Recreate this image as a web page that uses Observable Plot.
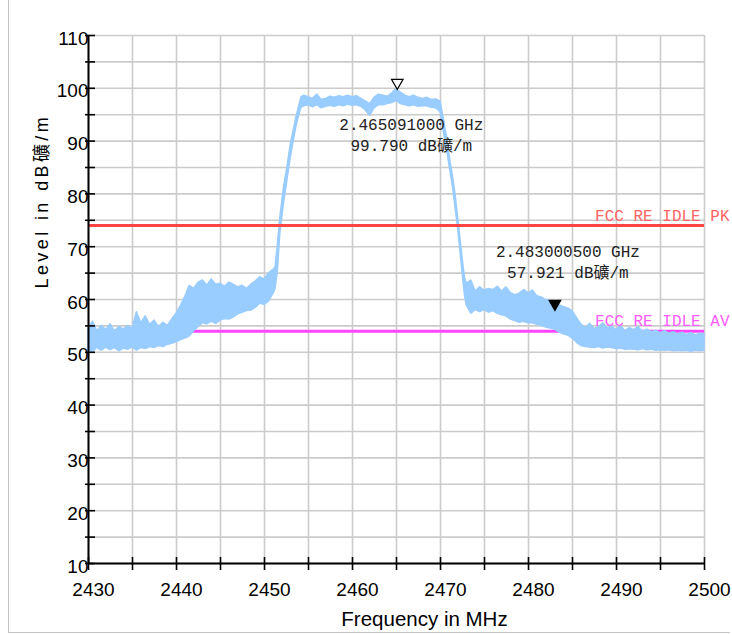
<!DOCTYPE html>
<html><head><meta charset="utf-8">
<script src="https://cdn.jsdelivr.net/npm/d3@7"></script>
<script src="https://cdn.jsdelivr.net/npm/@observablehq/plot@0.6"></script>
<style>
body{margin:0;background:#fff;}
#wrap{position:relative;width:732px;height:634px;}
#border{position:absolute;left:8px;top:0;width:722px;height:633px;border-left:1.5px solid #c4c4c4;border-bottom:1.5px solid #c4c4c4;box-sizing:border-box;}
#chart{position:absolute;left:0;top:0;}
</style></head><body>
<div id="wrap"><div id="border"></div><div id="chart"></div></div>
<script>
// ---- data ----
const freqs = [2430,2430.5,2431,2431.5,2432,2432.5,2433,2433.5,2434,2434.5,2435,2435.5,2436,2436.5,2437,2437.5,2438,2438.5,2439,2439.5,
2440,2440.5,2441,2441.5,2442,2442.5,2443,2443.5,2444,2444.5,2445,2445.5,2446,2446.5,2447,2447.5,2448,2448.5,2449,2449.5,
2450,2450.5,2451,2451.25,2451.5,2451.8,2452.2,2452.6,2453,2453.3,2453.6,2453.9,2454.2,2454.5,2455,2455.5,2456,2456.5,2457,2457.5,
2458,2458.5,2459,2459.5,2460,2460.5,2461,2461.5,2462,2462.5,2463,2463.5,2464,2464.5,2465,2465.5,2466,2466.5,2467,2467.5,
2468,2468.5,2469,2469.5,2470,2470.4,2470.8,2471.1,2471.4,2471.7,2472,2472.3,2472.6,2472.8,2473,2473.5,2474,2474.5,2475,2475.5,
2476,2476.5,2477,2477.5,2478,2478.5,2479,2479.5,2480,2480.5,2481,2481.5,2482,2482.5,2483,2483.5,2484,2484.5,2485,2485.5,
2486,2486.5,2487,2487.5,2488,2488.5,2489,2489.5,2490,2490.5,2491,2491.5,2492,2492.5,2493,2493.5,2494,2494.5,2495,2495.5,
2496,2496.5,2497,2497.5,2498,2498.5,2499,2499.5,2500];
const levelLow = [50.5,50.0,50.8,50.3,50.9,50.4,50.8,50.2,50.7,50.5,50.9,50.3,50.8,50.6,51.0,50.8,51.2,51.0,51.4,51.6,
51.9,52.3,52.6,53.0,54.0,54.8,55.5,55.3,55.8,55.4,56.0,56.3,56.2,56.6,57.2,57.5,57.8,57.9,58.4,59.2,
59.0,59.6,61.0,62.0,65.0,72.5,78.0,82.5,87.0,89.8,92.5,94.6,96.3,96.6,96.8,96.4,96.8,96.2,96.5,96.7,
96.5,96.8,96.6,96.9,96.7,96.8,96.5,95.8,94.8,96.2,96.8,96.8,97.0,97.2,97.6,97.0,96.8,96.6,96.8,96.5,
96.6,96.6,96.3,96.2,95.5,91.5,87.8,84.5,81.5,77.5,73.5,68.5,63.5,60.5,58.8,57.3,58.0,57.6,58.0,57.5,
57.8,57.3,57.0,56.8,56.2,55.9,55.6,55.8,55.5,55.5,55.2,55.0,54.7,54.5,54.3,53.8,53.4,53.2,52.6,51.8,
51.2,51.0,50.9,50.8,51.0,50.7,50.9,50.8,50.6,50.7,50.5,50.6,50.5,50.4,50.6,50.4,50.5,50.3,50.4,50.3,
50.4,50.2,50.3,50.2,50.3,50.1,50.3,50.2,50.3];
const levelHigh = [54.5,55.8,54.0,55.0,54.2,55.3,54.0,54.8,54.3,55.0,54.4,57.6,55.5,56.8,55.2,56.0,54.8,55.6,55.0,56.2,
57.3,58.8,60.5,62.6,62.0,63.2,63.6,62.6,63.8,62.8,63.0,62.4,63.2,62.8,62.3,62.6,62.0,62.8,63.4,64.2,
63.8,64.9,65.6,66.0,70.0,75.5,81.0,85.0,89.5,91.8,94.3,96.3,98.3,98.6,98.3,98.0,98.8,97.8,98.0,98.4,
98.2,98.5,98.3,98.6,98.3,98.5,98.0,97.5,97.0,98.2,98.8,98.6,98.4,99.0,99.8,99.2,98.6,98.3,98.6,98.2,
98.0,98.2,97.8,97.9,97.5,94.0,90.0,86.5,83.5,80.0,75.5,71.0,66.5,64.0,63.0,63.6,61.5,62.3,61.7,62.0,
61.8,62.4,61.5,62.3,61.2,60.8,61.1,61.8,61.2,61.7,60.6,60.4,59.9,59.8,59.2,58.9,58.6,58.3,57.8,56.5,
55.3,54.6,55.4,54.4,54.8,55.5,54.5,54.8,54.2,55.0,54.0,54.6,54.2,54.8,53.9,54.3,53.8,54.1,53.6,54.0,
53.5,53.8,53.4,53.7,53.3,53.6,53.2,53.5,53.4];

const limitNames = ["FCC RE IDLE PK", "FCC RE IDLE AV"];
const limitLevels = [74, 54];
const limitColors = ["#ff4444", "#ff44ff"];
const limitTextColors = ["#ff6464", "#ff5cff"];

const markerFreqs = [2465.091, 2483.0005];
const markerLevels = [99.79, 57.921];
const markerFreqText = ["2.465091000 GHz", "2.483000500 GHz"];
const markerLevelText = ["99.790 dB礦/m", "57.921 dB礦/m"];
const markerFills = ["white", "black"];

const xTicksMinor = [2430,2435,2440,2445,2450,2455,2460,2465,2470,2475,2480,2485,2490,2495,2500];
const xTicksMajor = [2430,2440,2450,2460,2470,2480,2490,2500];
const yTicksMinor = [10,15,20,25,30,35,40,45,50,55,60,65,70,75,80,85,90,95,100,105,110];
const yTicksMajor = [10,20,30,40,50,60,70,80,90,100,110];

const xLabel = "Frequency in MHz";
const yLabel = "Level in dB礦/m";

// ---- build ----
const trace = freqs.map((f, i) => ({f, lo: levelLow[i], hi: levelHigh[i]}));
const limits = limitNames.map((n, i) => ({name: n, level: limitLevels[i], color: limitColors[i], tcolor: limitTextColors[i]}));
const markers = markerFreqs.map((f, i) => ({f, v: markerLevels[i], text: markerFreqText[i] + "\n" + markerLevelText[i], fill: markerFills[i]}));
const mono = "'Liberation Mono','Noto Sans CJK SC',monospace";

const chart = Plot.plot({
  width: 732, height: 634,
  marginLeft: 88, marginRight: 28, marginTop: 35, marginBottom: 71,
  x: {domain: [2430, 2500]},
  y: {domain: [10, 110]},
  style: {fontFamily: "'Liberation Sans', Arial, 'Noto Sans CJK SC', sans-serif", fontSize: "19px", background: "transparent", overflow: "visible", color: "black"},
  marks: [
    Plot.gridX(xTicksMinor, {stroke: "#cbcbcb", strokeOpacity: 1, strokeWidth: 1.6}),
    Plot.gridY(yTicksMinor, {stroke: "#cbcbcb", strokeOpacity: 1, strokeWidth: 1.6}),
    Plot.ruleY([limits[1]], {y: "level", stroke: "color", strokeWidth: 3}),
    Plot.areaY(trace, {x: "f", y1: "lo", y2: "hi", fill: "#99ccff", stroke: "#99ccff", strokeWidth: 1.5}),
    Plot.ruleY([limits[0]], {y: "level", stroke: "color", strokeWidth: 3}),
    Plot.text(limits, {x: () => 2500, y: "level", text: "name", fill: "tcolor", textAnchor: "end", dx: 25, dy: -10, fontFamily: mono, fontSize: 16}),
    Plot.dot(markers, {x: "f", y: "v", symbol: "triangle", rotate: 180, r: 4.3, dy: -6.7, fill: "fill", stroke: "black", strokeWidth: 1.2}),
    Plot.text([markers[0]], {x: "f", y: "v", text: "text", dx: 14, dy: 44.5, fontFamily: mono, fontSize: 16, lineHeight: 1.33, fill: "#222"}),
    Plot.text([markers[1]], {x: "f", y: "v", text: "text", dx: 13, dy: -49.5, fontFamily: mono, fontSize: 16, lineHeight: 1.33, fill: "#222"}),
    Plot.axisY(yTicksMinor, {tickSize: 10, dx: 7, tickFormat: () => "", label: null, strokeWidth: 1.6}),
    Plot.axisY(yTicksMajor, {tickSize: 0, tickPadding: 0, dy: 3, label: null}),
    Plot.axisX(xTicksMinor, {tickSize: 13, dy: -6, tickFormat: () => "", label: null, strokeWidth: 1.6}),
    Plot.axisX(xTicksMajor, {tickSize: 0, tickPadding: 19, dx: 5, label: null, tickFormat: d => String(d)}),
    Plot.ruleX([2430], {stroke: "black", strokeWidth: 2}),
    Plot.ruleY([10], {stroke: "black", strokeWidth: 2}),
    Plot.text([yLabel], {frameAnchor: "left", dx: -46, dy: -11, rotate: -90, fontSize: 18, className: "ylab"}),
    Plot.text([xLabel], {frameAnchor: "bottom", dx: 28, dy: 62, fontSize: 20.5})
  ]
});
// letter-spaced vertical axis title, as in the reference
chart.querySelectorAll("g.ylab text, .ylab text").forEach(t => t.style.letterSpacing = "3.4px");
document.getElementById("chart").appendChild(chart);
</script>
</body></html>
